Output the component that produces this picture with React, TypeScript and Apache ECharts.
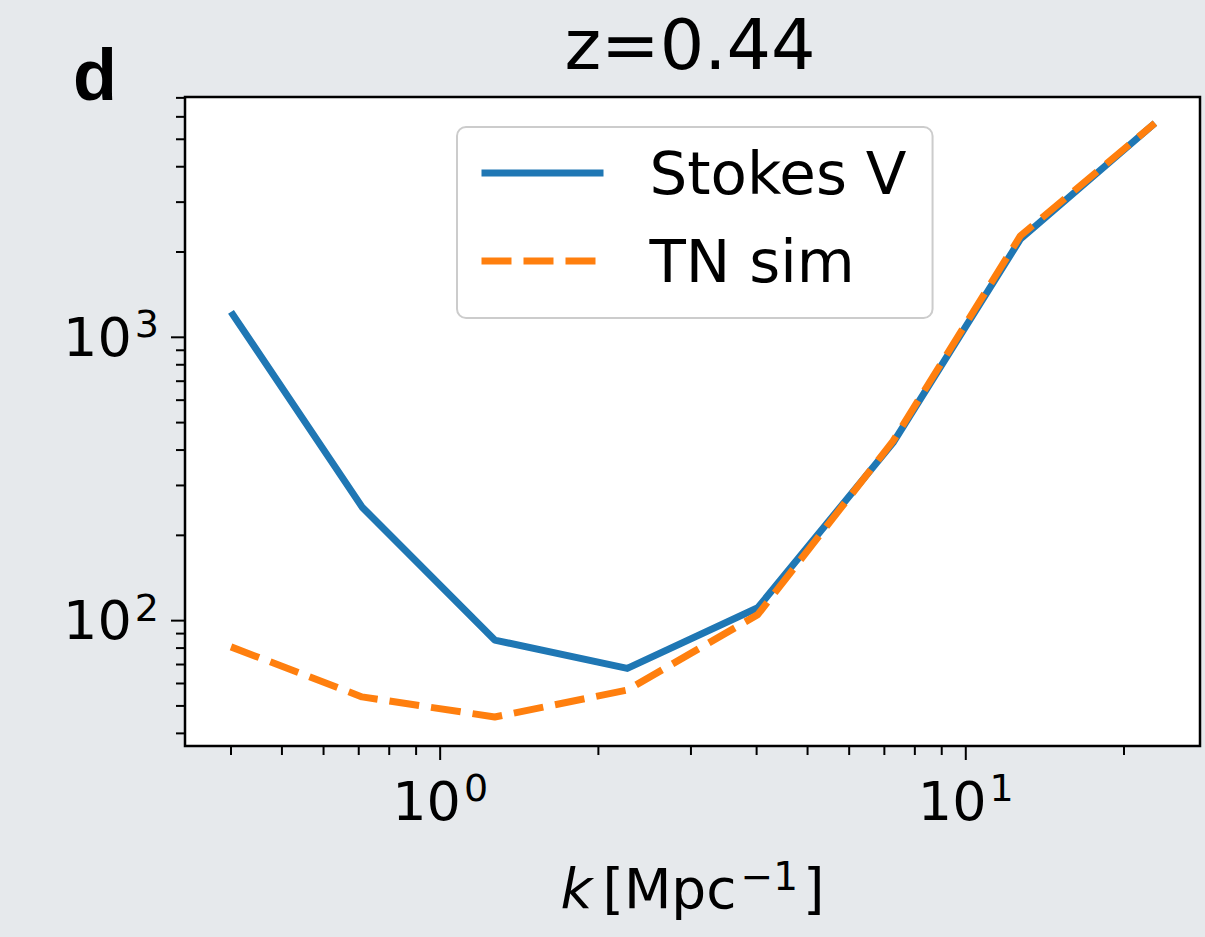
import React, { useEffect, useRef } from 'react';
import * as echarts from 'echarts';

const kValues = [0.4, 0.71, 1.27, 2.27, 4.02, 7.27, 12.7, 22.9];
const stokesV = [1230, 252, 85.4, 67.8, 111, 424, 2220, 5700];
const tnSim = [80.8, 53.8, 45.7, 56.9, 105, 430, 2280, 5700];

const xMajorTicks = [1, 10];
const xMinorTicks = [0.4, 0.5, 0.6, 0.7, 0.8, 0.9, 2, 3, 4, 5, 6, 7, 8, 9, 20];
const yMajorTicks = [100, 1000];
const yMinorTicks = [40, 50, 60, 70, 80, 90, 200, 300, 400, 500, 600, 700, 800, 900, 2000, 3000, 4000, 5000, 6000, 7000];

const X_MIN = 0.327;
const X_MAX = 27.9;
const Y_MIN = 36.1;
const Y_MAX = 7050;

const FONT = 'DejaVu Sans';

const isPow10 = (v: number) => {
  const l = Math.log10(v);
  return Math.abs(l - Math.round(l)) < 1e-6;
};
const powLabel = (v: number) => (isPow10(v) ? `{b|10}{s|${Math.round(Math.log10(v))}}` : '');

const richLabel = {
  b: { fontSize: 54, lineHeight: 64, fontFamily: FONT, color: '#000' },
  s: { fontSize: 38, lineHeight: 36, verticalAlign: 'top', fontFamily: FONT, color: '#000', padding: [0, 0, 0, 3] },
};

export default function App() {
  const ref = useRef<HTMLDivElement>(null);
  useEffect(() => {
    if (!ref.current) return;
    const chart = echarts.init(ref.current, undefined, { renderer: 'svg' });
    const xTickData = [
      ...xMajorTicks.map((v) => [v, 1]),
      ...xMinorTicks.map((v) => [v, 0]),
    ];
    const yTickData = [
      ...yMajorTicks.map((v) => [v, 1]),
      ...yMinorTicks.map((v) => [v, 0]),
    ];
    chart.setOption({
      animation: false,
      backgroundColor: '#e6e9ec',
      grid: {
        left: 185,
        right: 5,
        top: 97,
        bottom: 191,
        show: true,
        backgroundColor: '#ffffff',
        borderColor: '#000',
        borderWidth: 2.5,
      },
      graphic: [
        {
          type: 'text',
          x: 690,
          y: 45,
          style: {
            text: 'z=0.44',
            fontSize: 70,
            fontFamily: FONT,
            fill: '#000',
            align: 'center',
            verticalAlign: 'middle',
          },
        },
        {
          type: 'text',
          x: 73,
          y: 75,
          style: {
            text: 'd',
            fontSize: 72,
            fontWeight: 'bold',
            fontFamily: 'Liberation Sans',
            fill: '#000',
            align: 'left',
            verticalAlign: 'middle',
          },
        },
      ],
      legend: {
        data: ['Stokes V', 'TN sim'],
        orient: 'vertical',
        left: 457,
        top: 127,
        itemWidth: 122,
        itemHeight: 20,
        itemGap: 26,
        padding: [15, 26, 26, 21],
        backgroundColor: 'rgba(255,255,255,0.85)',
        borderColor: '#cccccc',
        borderWidth: 2,
        borderRadius: 9,
        itemStyle: { opacity: 0 },
        lineStyle: { width: 7 },
        textStyle: {
          fontSize: 59.5,
          lineHeight: 62,
          fontFamily: FONT,
          color: '#000',
          padding: [0, 0, 0, 41],
        },
      },
      xAxis: {
        type: 'log',
        logBase: 10,
        min: X_MIN,
        max: X_MAX,
        axisLine: { show: false },
        axisTick: { show: false },
        splitLine: { show: false },
        axisLabel: {
          margin: 23,
          formatter: (v: number) => powLabel(v),
          rich: richLabel,
        },
        name: '{i|k}{r|[Mpc}{s|−1}{r|]}',
        nameLocation: 'middle',
        nameGap: 111,
        nameTextStyle: {
          rich: {
            i: { fontSize: 55, lineHeight: 64, fontStyle: 'italic', fontFamily: FONT, color: '#000', padding: [0, 10, 0, 0] },
            r: { fontSize: 55, lineHeight: 64, fontFamily: FONT, color: '#000' },
            s: { fontSize: 39, lineHeight: 36, verticalAlign: 'top', fontFamily: FONT, color: '#000', padding: [0, 5, 0, 4] },
          },
        },
      },
      yAxis: {
        type: 'log',
        logBase: 10,
        min: Y_MIN,
        max: Y_MAX,
        axisLine: { show: false },
        axisTick: { show: false },
        splitLine: { show: false },
        axisLabel: {
          margin: 26,
          formatter: (v: number) => powLabel(v),
          rich: richLabel,
        },
      },
      series: [
        {
          name: 'Stokes V',
          type: 'line',
          data: kValues.map((k, i) => [k, stokesV[i]]),
          symbol: 'none',
          lineStyle: { color: '#1f77b4', width: 7, join: 'round', cap: 'butt' },
          itemStyle: { color: '#1f77b4' },
          z: 3,
        },
        {
          name: 'TN sim',
          type: 'line',
          data: kValues.map((k, i) => [k, tnSim[i]]),
          symbol: 'none',
          lineStyle: { color: '#ff7f0e', width: 7, type: [30, 12], join: 'round', cap: 'butt' },
          itemStyle: { color: '#ff7f0e' },
          z: 4,
        },
        {
          name: 'xticks',
          type: 'custom',
          clip: false,
          silent: true,
          data: xTickData,
          renderItem: (params: any, api: any) => {
            const p = api.coord([api.value(0), Y_MIN]);
            const len = api.value(1) ? 13 : 8;
            return {
              type: 'line',
              shape: { x1: p[0], y1: p[1] + 1, x2: p[0], y2: p[1] + 1 + len },
              style: { stroke: '#000', lineWidth: 2 },
            };
          },
          z: 5,
        },
        {
          name: 'yticks',
          type: 'custom',
          clip: false,
          silent: true,
          data: yTickData.map((d) => [X_MIN, d[0], d[1]]),
          renderItem: (params: any, api: any) => {
            const p = api.coord([X_MIN, api.value(1)]);
            const len = api.value(2) ? 13 : 8;
            return {
              type: 'line',
              shape: { x1: p[0] - 1, y1: p[1], x2: p[0] - 1 - len, y2: p[1] },
              style: { stroke: '#000', lineWidth: 2 },
            };
          },
          z: 5,
        },
      ],
    });
    return () => chart.dispose();
  }, []);
  return (
    <div
      ref={ref}
      style={{ position: 'absolute', left: 0, top: 0, width: 1205, height: 937, background: '#e6e9ec' }}
    />
  );
}
